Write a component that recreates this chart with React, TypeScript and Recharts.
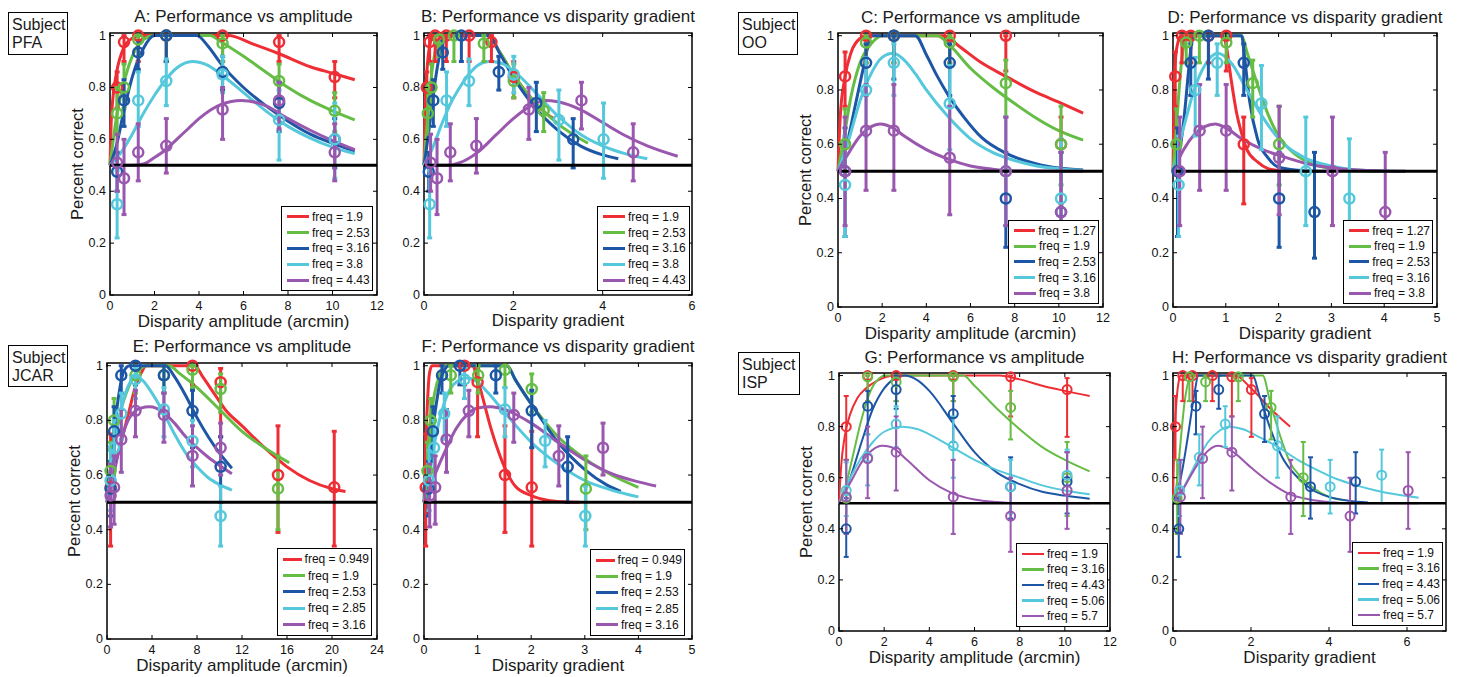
import React from 'react';
import { ComposedChart, Line, Scatter, XAxis, YAxis, ErrorBar, ReferenceLine, ReferenceArea, Legend } from 'recharts';

const FONT = '"Liberation Sans", Arial, Helvetica, sans-serif';
const COLORS = ['#ee2d34', '#66bd45', '#1d56a5', '#55c8dc', '#9a57ae'];
const Y_TICKS = [0, 0.2, 0.4, 0.6, 0.8, 1];

// ---- Subject PFA (panels A, B) ----
const pfaFreqs = ['1.9', '2.53', '3.16', '3.8', '4.43'];
const pfaAmp = [0.32, 0.63, 1.27, 2.53, 5.06, 7.6, 10.1];
const pfaGrad = [
  [0.063, 0.125, 0.25, 0.5, 1.01, 1.51, 2.01],
  [0.085, 0.167, 0.336, 0.67, 1.34, 2.01, 2.68],
  [0.106, 0.209, 0.42, 0.837, 1.675, 2.515, 3.34],
  [0.127, 0.25, 0.505, 1.007, 2.01, 3.02, 4.02],
  [0.148, 0.292, 0.589, 1.173, 2.347, 3.525, 4.684],
];
const pfaY = [
  [0.8, 0.975, 1, 1, 1, 0.975, 0.84],
  [0.7, 0.8, 0.985, 1, 0.97, 0.825, 0.71],
  [0.475, 0.75, 0.935, 1, 0.86, 0.74, 0.6],
  [0.35, null, 0.75, 0.825, 0.85, 0.675, 0.6],
  [0.51, 0.45, 0.55, 0.575, 0.715, 0.75, 0.55],
];
const pfaLo = [
  [0.72, 0.9, 0.9, 0.9, 0.9, 0.9, 0.76],
  [0.62, 0.72, 0.92, 0.9, 0.9, 0.76, 0.63],
  [0.4, 0.65, 0.87, 0.9, 0.79, 0.63, 0.49],
  [0.22, null, 0.65, 0.73, 0.78, 0.52, 0.45],
  [0.4, 0.31, 0.44, 0.47, 0.6, 0.64, 0.44],
];
const pfaHi = [
  [0.86, 1, 1, 1, 1, 1, 0.9],
  [0.8, 0.89, 1, 1, 1, 0.89, 0.78],
  [0.55, 0.83, 0.98, 1, 0.92, 0.82, 0.68],
  [0.48, null, 0.86, 0.91, 0.92, 0.79, 0.74],
  [0.62, 0.6, 0.66, 0.68, 0.8, 0.82, 0.66],
];
const fitA = [
  [[0, 0.5], [0.05, 0.66], [0.12, 0.75], [0.3, 0.86], [0.6, 0.95], [1, 0.99], [1.4, 1], [5.3, 1], [6.5, 0.965], [7.6, 0.93], [9, 0.88], [10, 0.855], [11, 0.83]],
  [[0, 0.5], [0.3, 0.69], [0.6, 0.81], [1, 0.92], [1.5, 0.985], [2, 1], [4.5, 1], [5, 0.975], [6, 0.92], [7, 0.86], [8, 0.8], [9, 0.75], [10, 0.71], [11, 0.675]],
  [[0, 0.5], [0.3, 0.58], [0.6, 0.7], [1, 0.84], [1.5, 0.95], [2, 1], [3.9, 1], [4.4, 0.96], [5, 0.89], [6, 0.8], [7, 0.73], [8, 0.67], [9, 0.62], [10, 0.585], [11, 0.555]],
  [[0, 0.5], [0.5, 0.55], [1, 0.62], [1.5, 0.7], [2, 0.77], [2.5, 0.83], [3, 0.875], [3.7, 0.9], [4.4, 0.885], [5, 0.85], [6, 0.78], [7, 0.71], [8, 0.65], [9, 0.605], [10, 0.57], [11, 0.545]],
  [[0, 0.5], [1, 0.5], [1.5, 0.505], [2, 0.53], [2.5, 0.56], [3, 0.6], [3.5, 0.64], [4, 0.68], [5, 0.735], [5.9, 0.75], [7, 0.73], [8, 0.68], [9, 0.635], [10, 0.595], [11, 0.56]],
];
const fitB = [
  [[0, 0.5], [0.03, 0.75], [0.06, 0.85], [0.1, 0.93], [0.15, 0.98], [0.2, 1], [1.45, 1], [1.7, 0.935], [2, 0.85], [2.3, 0.78], [2.6, 0.72], [2.9, 0.68]],
  [[0, 0.5], [0.1, 0.73], [0.2, 0.89], [0.3, 0.97], [0.4, 1], [1.4, 1], [1.7, 0.935], [2, 0.85], [2.5, 0.74], [3, 0.66], [3.67, 0.585]],
  [[0, 0.5], [0.1, 0.62], [0.2, 0.76], [0.3, 0.88], [0.4, 0.96], [0.55, 1], [1.45, 1], [1.7, 0.93], [2, 0.84], [2.5, 0.72], [3, 0.635], [3.5, 0.575], [4, 0.54], [4.35, 0.525]],
  [[0, 0.5], [0.2, 0.57], [0.4, 0.66], [0.6, 0.74], [0.8, 0.8], [1, 0.85], [1.2, 0.885], [1.45, 0.9], [1.7, 0.895], [2, 0.865], [2.5, 0.78], [3, 0.69], [3.5, 0.62], [4, 0.575], [4.5, 0.545], [5, 0.525]],
  [[0, 0.5], [0.5, 0.5], [0.8, 0.51], [1.2, 0.55], [1.6, 0.615], [2, 0.68], [2.4, 0.73], [2.7, 0.75], [3, 0.745], [3.5, 0.715], [4, 0.665], [4.5, 0.615], [5, 0.575], [5.68, 0.535]],
];

// ---- Subject OO (panels C, D) ----
const ooFreqs = ['1.27', '1.9', '2.53', '3.16', '3.8'];
const ooAmp = [0.32, 1.27, 2.53, 5.06, 7.6, 10.1];
const ooGrad = [
  [0.042, 0.169, 0.336, 0.673, 1.01, 1.34],
  [0.064, 0.25, 0.5, 1.01, 1.51, 2.01],
  [0.085, 0.336, 0.67, 1.34, 2.01, 2.68],
  [0.106, 0.42, 0.837, 1.675, 2.515, 3.34],
  [0.127, 0.505, 1.007, 2.01, 3.02, 4.02],
];
const ooY = [
  [0.85, 1, 1, 1, 1, 0.6],
  [0.6, 0.975, 1, 0.975, 0.825, 0.6],
  [0.5, 0.9, 1, 0.9, 0.4, 0.35],
  [0.45, 0.8, 0.9, 0.75, 0.5, 0.4],
  [0.5, 0.65, 0.65, 0.55, 0.5, 0.35],
];
const ooLo = [
  [0.74, 0.9, 0.9, 0.9, 0.87, 0.38],
  [0.5, 0.9, 0.9, 0.9, 0.7, 0.45],
  [0.26, 0.78, 0.84, 0.78, 0.22, 0.18],
  [0.26, 0.63, 0.78, 0.58, 0.3, 0.22],
  [0.3, 0.43, 0.43, 0.34, 0.3, 0.15],
];
const ooHi = [
  [0.94, 1, 1, 1, 1, 0.7],
  [0.73, 1, 1, 1, 0.91, 0.74],
  [0.66, 0.97, 1, 0.97, 0.57, 0.57],
  [0.63, 0.92, 0.97, 0.89, 0.7, 0.62],
  [0.7, 0.82, 0.82, 0.74, 0.7, 0.57],
];
const fitC = [
  [[0, 0.5], [0.1, 0.7], [0.3, 0.84], [0.6, 0.94], [1, 0.99], [1.3, 1], [4.8, 1], [5.5, 0.96], [6.5, 0.9], [7.6, 0.85], [9, 0.79], [10, 0.755], [11.1, 0.715]],
  [[0, 0.5], [0.3, 0.64], [0.6, 0.78], [1, 0.9], [1.5, 0.97], [2, 1], [4.5, 1], [5, 0.97], [6, 0.88], [7, 0.81], [8, 0.75], [9, 0.695], [10, 0.65], [11.1, 0.615]],
  [[0, 0.5], [0.4, 0.6], [0.8, 0.75], [1.2, 0.9], [1.5, 1], [3.5, 1], [4, 0.93], [4.5, 0.85], [5, 0.78], [5.7, 0.7], [6.5, 0.625], [7.6, 0.567], [9, 0.527], [10, 0.512], [11.1, 0.505]],
  [[0, 0.5], [0.5, 0.62], [1, 0.76], [1.5, 0.86], [2, 0.92], [2.5, 0.935], [3, 0.91], [3.5, 0.86], [4, 0.8], [5, 0.7], [6, 0.62], [7, 0.57], [8, 0.54], [9, 0.52], [10, 0.51], [11.1, 0.503]],
  [[0, 0.5], [0.5, 0.57], [1, 0.63], [1.5, 0.665], [1.9, 0.675], [2.5, 0.66], [3, 0.63], [4, 0.58], [5, 0.545], [6, 0.52], [7, 0.508], [8, 0.502], [11.1, 0.5]],
];
const fitD = [
  [[0, 0.5], [0.02, 0.8], [0.05, 0.92], [0.1, 0.98], [0.15, 1], [0.95, 1], [1.02, 0.95], [1.1, 0.84], [1.2, 0.72], [1.3, 0.64], [1.4, 0.58], [1.6, 0.535], [1.8, 0.51], [2, 0.503], [2.2, 0.5]],
  [[0, 0.5], [0.05, 0.62], [0.1, 0.76], [0.15, 0.88], [0.2, 0.96], [0.27, 1], [1.3, 1], [1.4, 0.94], [1.6, 0.82], [1.8, 0.71], [2, 0.63], [2.3, 0.565], [2.6, 0.53], [3, 0.51], [3.5, 0.502], [4, 0.5]],
  [[0, 0.5], [0.1, 0.55], [0.2, 0.68], [0.3, 0.88], [0.35, 0.97], [0.4, 1], [1.3, 1], [1.35, 0.93], [1.45, 0.76], [1.6, 0.62], [1.8, 0.55], [2, 0.515], [2.5, 0.502], [3, 0.5]],
  [[0, 0.5], [0.2, 0.66], [0.4, 0.8], [0.6, 0.89], [0.85, 0.935], [1.1, 0.9], [1.4, 0.8], [1.7, 0.7], [2, 0.62], [2.5, 0.55], [3, 0.52], [3.5, 0.505], [4.4, 0.5]],
  [[0, 0.5], [0.2, 0.58], [0.4, 0.635], [0.6, 0.665], [0.8, 0.675], [1, 0.66], [1.3, 0.62], [1.7, 0.58], [2, 0.56], [2.5, 0.53], [3, 0.513], [3.5, 0.505], [4.4, 0.5]],
];

// ---- Subject JCAR (panels E, F) ----
const jcarFreqs = ['0.949', '1.9', '2.53', '2.85', '3.16'];
const jcarAmp = [
  [0.32, 7.6, 10.1, 15.2, 20.2],
  [0.32, 0.63, 2.53, 5.06, 7.6, 10.1, 15.2],
  [0.32, 0.63, 1.27, 2.53, 5.06, 7.6, 10.1],
  [0.32, 0.63, 1.27, 2.53, 5.06, 7.6, 10.1],
  [0.32, 0.63, 1.27, 2.53, 5.06, 7.6, 10.1],
];
const jcarGrad = [
  [0.032, 0.755, 1, 1.51, 2.01],
  [0.064, 0.125, 0.5, 1.01, 1.51, 2.01, 3.02],
  [0.085, 0.167, 0.336, 0.67, 1.34, 2.01, 2.68],
  [0.095, 0.188, 0.378, 0.754, 1.51, 2.26, 3.01],
  [0.106, 0.209, 0.42, 0.837, 1.675, 2.515, 3.34],
];
const jcarY = [
  [0.555, 1, 0.94, 0.6, 0.555],
  [0.615, 0.8, 0.965, 0.965, 0.985, 0.915, 0.55],
  [0.55, 0.76, 0.965, 1, 0.965, 0.835, 0.63],
  [0.58, 0.7, 0.825, 0.95, 0.84, 0.725, 0.45],
  [0.525, 0.555, 0.73, 0.835, 0.82, 0.67, 0.7],
];
const jcarLo = [
  [0.34, 0.93, 0.74, 0.39, 0.34],
  [0.5, 0.72, 0.9, 0.9, 0.92, 0.83, 0.4],
  [0.45, 0.65, 0.9, 0.93, 0.9, 0.7, 0.5],
  [0.47, 0.58, 0.73, 0.88, 0.74, 0.63, 0.34],
  [0.41, 0.42, 0.61, 0.74, 0.72, 0.56, 0.6],
];
const jcarHi = [
  [0.75, 1, 0.99, 0.78, 0.76],
  [0.72, 0.88, 1, 1, 1, 0.97, 0.67],
  [0.65, 0.85, 1, 1, 1, 0.91, 0.74],
  [0.69, 0.8, 0.9, 0.99, 0.92, 0.8, 0.56],
  [0.64, 0.67, 0.84, 0.91, 0.9, 0.78, 0.79],
];
const fitE = [
  [[0, 0.5], [0.5, 0.6], [1, 0.68], [1.5, 0.76], [2, 0.84], [2.5, 0.92], [3, 0.97], [3.5, 1], [7.8, 1], [8.5, 0.96], [9.5, 0.9], [10.5, 0.84], [12, 0.78], [14, 0.7], [16, 0.63], [18, 0.58], [20, 0.55], [21.2, 0.54]],
  [[0, 0.5], [0.5, 0.7], [1, 0.8], [2, 0.93], [3, 0.99], [3.5, 1], [5.5, 1], [6.5, 0.97], [8, 0.92], [10, 0.84], [12, 0.76], [14, 0.7], [16.2, 0.645]],
  [[0, 0.5], [0.5, 0.7], [1, 0.88], [1.5, 0.98], [2, 1], [5.2, 1], [6, 0.96], [7, 0.89], [8, 0.81], [9, 0.74], [10, 0.68], [11.1, 0.625]],
  [[0, 0.5], [0.5, 0.66], [1, 0.79], [1.5, 0.88], [2, 0.935], [2.6, 0.96], [3.2, 0.945], [4, 0.9], [5, 0.83], [6, 0.75], [7, 0.68], [8, 0.63], [9, 0.59], [10, 0.565], [11.1, 0.545]],
  [[0, 0.5], [0.5, 0.58], [1, 0.68], [1.5, 0.76], [2, 0.81], [3, 0.845], [3.8, 0.85], [5, 0.83], [6, 0.79], [7, 0.74], [8, 0.7], [9, 0.665], [10, 0.635], [11.1, 0.605]],
];
const fitF = [
  [[0, 0.5], [0.05, 0.8], [0.1, 0.97], [0.15, 1], [0.9, 1], [1, 0.95], [1.1, 0.88], [1.25, 0.77], [1.4, 0.68], [1.5, 0.63], [1.7, 0.56], [2, 0.525], [2.3, 0.508], [2.6, 0.502], [2.9, 0.5]],
  [[0, 0.5], [0.05, 0.62], [0.1, 0.76], [0.2, 0.9], [0.3, 0.97], [0.4, 1], [1.55, 1], [1.7, 0.95], [2, 0.86], [2.5, 0.74], [3, 0.66], [3.5, 0.6], [4, 0.555]],
  [[0, 0.5], [0.1, 0.66], [0.2, 0.82], [0.3, 0.94], [0.4, 0.99], [0.45, 1], [1.55, 1], [1.7, 0.95], [2, 0.86], [2.5, 0.72], [3, 0.62], [3.4, 0.565], [3.67, 0.54]],
  [[0, 0.5], [0.1, 0.61], [0.2, 0.72], [0.3, 0.81], [0.45, 0.9], [0.6, 0.94], [0.8, 0.955], [1, 0.94], [1.2, 0.9], [1.5, 0.83], [2, 0.72], [2.5, 0.64], [3, 0.58], [3.5, 0.545], [4, 0.52]],
  [[0, 0.5], [0.2, 0.6], [0.4, 0.69], [0.6, 0.77], [0.8, 0.82], [1, 0.845], [1.25, 0.85], [1.5, 0.84], [2, 0.79], [2.5, 0.72], [3, 0.655], [3.5, 0.605], [4, 0.575], [4.33, 0.56]],
];

// ---- Subject ISP (panels G, H) ----
const ispFreqs = ['1.9', '3.16', '4.43', '5.06', '5.7'];
const ispAmp = [0.32, 1.27, 2.53, 5.06, 7.6, 10.1];
const ispGrad = [
  [0.064, 0.25, 0.5, 1.01, 1.51, 2.01],
  [0.106, 0.42, 0.837, 1.675, 2.515, 3.34],
  [0.148, 0.589, 1.173, 2.347, 3.525, 4.684],
  [0.17, 0.673, 1.34, 2.68, 4.03, 5.35],
  [0.19, 0.758, 1.51, 3.02, 4.54, 6.03],
];
const ispY = [
  [0.8, 1, 1, 1, 0.995, 0.945],
  [0.52, 0.995, 0.975, 0.995, 0.875, 0.6],
  [0.4, 0.88, 0.945, 0.85, 0.565, 0.585],
  [0.55, 0.68, 0.81, 0.725, 0.565, 0.61],
  [0.525, 0.675, 0.7, 0.525, 0.45, 0.55],
];
const ispLo = [
  [0.67, 0.9, 0.9, 0.9, 0.84, 0.76],
  [0.38, 0.9, 0.9, 0.9, 0.75, 0.45],
  [0.29, 0.77, 0.87, 0.74, 0.44, 0.46],
  [0.45, 0.57, 0.72, 0.6, 0.46, 0.5],
  [0.38, 0.52, 0.55, 0.38, 0.31, 0.4],
];
const ispHi = [
  [0.92, 1, 1, 1, 1, 0.99],
  [0.67, 1, 1, 1, 0.94, 0.74],
  [0.52, 0.94, 1, 0.92, 0.68, 0.7],
  [0.66, 0.77, 0.88, 0.84, 0.67, 0.71],
  [0.67, 0.8, 0.84, 0.67, 0.6, 0.7],
];
const fitG = [
  [[0, 0.5], [0.1, 0.65], [0.25, 0.76], [0.5, 0.85], [0.8, 0.91], [1.2, 0.95], [1.7, 0.98], [2.5, 1], [7.1, 1], [8, 0.985], [9, 0.96], [10, 0.94], [11.1, 0.92]],
  [[0, 0.5], [0.3, 0.57], [0.6, 0.68], [1, 0.83], [1.4, 0.94], [1.8, 0.99], [2, 1], [5.5, 1], [6, 0.96], [7, 0.87], [8, 0.79], [9, 0.72], [10, 0.67], [11.1, 0.625]],
  [[0, 0.5], [0.5, 0.6], [1, 0.74], [1.5, 0.87], [2, 0.95], [2.5, 0.99], [2.9, 1], [3.5, 0.98], [4, 0.94], [5, 0.82], [6, 0.7], [7, 0.62], [8, 0.575], [9, 0.545], [10, 0.53], [11.1, 0.518]],
  [[0, 0.5], [0.5, 0.6], [1, 0.68], [1.5, 0.74], [2, 0.78], [2.8, 0.8], [3.5, 0.79], [4, 0.77], [5, 0.72], [6, 0.67], [7, 0.63], [8, 0.6], [9, 0.57], [10, 0.55], [11.1, 0.535]],
  [[0, 0.5], [0.5, 0.58], [1, 0.66], [1.5, 0.71], [1.9, 0.725], [2.3, 0.72], [3, 0.67], [4, 0.59], [5, 0.54], [6, 0.515], [7, 0.505], [8, 0.5], [11.1, 0.5]],
];
const fitH = [
  [[0, 0.5], [0.02, 0.65], [0.05, 0.8], [0.1, 0.92], [0.15, 0.98], [0.2, 1], [1.6, 1], [2, 0.95], [2.5, 0.87], [3, 0.8]],
  [[0, 0.5], [0.1, 0.58], [0.2, 0.75], [0.3, 0.9], [0.4, 0.98], [0.45, 1], [2.3, 1], [2.5, 0.89], [2.8, 0.74], [3, 0.66], [3.3, 0.6], [3.6, 0.56], [4, 0.525], [4.4, 0.512]],
  [[0, 0.5], [0.2, 0.6], [0.4, 0.78], [0.55, 0.93], [0.65, 1], [2.05, 1], [2.2, 0.93], [2.5, 0.79], [2.8, 0.68], [3.2, 0.6], [3.6, 0.55], [4, 0.525], [4.5, 0.51], [5, 0.503]],
  [[0, 0.5], [0.3, 0.57], [0.6, 0.66], [0.9, 0.74], [1.2, 0.785], [1.45, 0.8], [1.8, 0.79], [2.2, 0.76], [2.7, 0.72], [3.2, 0.67], [3.7, 0.63], [4.2, 0.595], [4.7, 0.57], [5.2, 0.55], [5.7, 0.535], [6.3, 0.522]],
  [[0, 0.5], [0.2, 0.54], [0.5, 0.62], [0.8, 0.69], [1.15, 0.725], [1.5, 0.705], [2, 0.64], [2.5, 0.58], [3, 0.535], [3.5, 0.515], [4, 0.505], [4.5, 0.5], [6.3, 0.5]],
];

const subjects = [
  { name: 'PFA', x: 8, y: 12, w: 60, h: 43 },
  { name: 'OO', x: 738, y: 12, w: 60, h: 43 },
  { name: 'JCAR', x: 8, y: 345, w: 60, h: 42 },
  { name: 'ISP', x: 738, y: 352, w: 62, h: 43 },
];

type Box = { x: number; y: number; w: number; h: number };
type Panel = {
  id: string; title: string; xLabel: string; yLabel: boolean;
  left: number; right: number; top: number; bottom: number;
  xMax: number; xTicks: number[]; titleY: number; xLabelY: number;
  freqs: string[]; xs: number[][]; ys: (number | null)[][]; lo: (number | null)[][]; hi: (number | null)[][];
  fits: number[][][]; legend: Box; thin?: boolean;
};

const AMP = 'Disparity amplitude (arcmin)';
const GRAD = 'Disparity gradient';
const rep = (a: number[]) => [a, a, a, a, a];

const panels: Panel[] = [
  { id: 'A', title: 'A: Performance vs amplitude', xLabel: AMP, yLabel: true, left: 110, right: 377, top: 33, bottom: 295, xMax: 12, xTicks: [0, 2, 4, 6, 8, 10, 12], titleY: 17, xLabelY: 321, freqs: pfaFreqs, xs: rep(pfaAmp), ys: pfaY, lo: pfaLo, hi: pfaHi, fits: fitA, legend: { x: 281, y: 206, w: 92, h: 85 } },
  { id: 'B', title: 'B: Performance vs disparity gradient', xLabel: GRAD, yLabel: false, left: 424, right: 692, top: 33, bottom: 295, xMax: 6, xTicks: [0, 2, 4, 6], titleY: 17, xLabelY: 320, freqs: pfaFreqs, xs: pfaGrad, ys: pfaY, lo: pfaLo, hi: pfaHi, fits: fitB, legend: { x: 597, y: 206, w: 93, h: 85 } },
  { id: 'C', title: 'C: Performance vs amplitude', xLabel: AMP, yLabel: true, left: 838, right: 1103, top: 33, bottom: 307, xMax: 12, xTicks: [0, 2, 4, 6, 8, 10, 12], titleY: 18, xLabelY: 333, freqs: ooFreqs, xs: rep(ooAmp), ys: ooY, lo: ooLo, hi: ooHi, fits: fitC, legend: { x: 1008, y: 220, w: 91, h: 84 } },
  { id: 'D', title: 'D: Performance vs disparity gradient', xLabel: GRAD, yLabel: false, left: 1173, right: 1437, top: 33, bottom: 307, xMax: 5, xTicks: [0, 1, 2, 3, 4, 5], titleY: 18, xLabelY: 333, freqs: ooFreqs, xs: ooGrad, ys: ooY, lo: ooLo, hi: ooHi, fits: fitD, legend: { x: 1343, y: 220, w: 90, h: 84 } },
  { id: 'E', title: 'E: Performance vs amplitude', xLabel: AMP, yLabel: true, left: 107, right: 377, top: 363, bottom: 639, xMax: 24, xTicks: [0, 4, 8, 12, 16, 20, 24], titleY: 347, xLabelY: 665, freqs: jcarFreqs, xs: jcarAmp, ys: jcarY, lo: jcarLo, hi: jcarHi, fits: fitE, legend: { x: 277, y: 548, w: 95, h: 88 } },
  { id: 'F', title: 'F: Performance vs disparity gradient', xLabel: GRAD, yLabel: false, left: 424, right: 692, top: 363, bottom: 639, xMax: 5, xTicks: [0, 1, 2, 3, 4, 5], titleY: 347, xLabelY: 665, freqs: jcarFreqs, xs: jcarGrad, ys: jcarY, lo: jcarLo, hi: jcarHi, fits: fitF, legend: { x: 590, y: 549, w: 95, h: 87 } },
  { id: 'G', title: 'G: Performance vs amplitude', xLabel: AMP, yLabel: true, left: 839, right: 1110, top: 373, bottom: 631, xMax: 12, xTicks: [0, 2, 4, 6, 8, 10, 12], titleY: 358, xLabelY: 657, freqs: ispFreqs, xs: rep(ispAmp), ys: ispY, lo: ispLo, hi: ispHi, fits: fitG, legend: { x: 1016, y: 543, w: 92, h: 84 }, thin: true },
  { id: 'H', title: 'H: Performance vs disparity gradient', xLabel: GRAD, yLabel: false, left: 1173, right: 1446, top: 373, bottom: 631, xMax: 7, xTicks: [0, 2, 4, 6], titleY: 358, xLabelY: 657, freqs: ispFreqs, xs: ispGrad, ys: ispY, lo: ispLo, hi: ispHi, fits: fitH, legend: { x: 1352, y: 542, w: 91, h: 84 }, thin: true },
];

const ML = 40, MT = 8, MR = 14, MB = 24;

function points(xs: number[], ys: (number | null)[], lo: (number | null)[], hi: (number | null)[]) {
  const out: { x: number; y: number; err: [number, number] }[] = [];
  xs.forEach((x, i) => {
    const y = ys[i];
    if (y == null) return;
    out.push({ x, y, err: [y - (lo[i] as number), (hi[i] as number) - y] });
  });
  return out;
}

const PanelChart = ({ p }: { p: Panel }) => {
  const plotW = p.right - p.left;
  const plotH = p.bottom - p.top;
  const w = plotW + ML + MR;
  const h = plotH + MT + MB;
  const cx = p.left - ML;
  const cy = p.top - MT;
  const lw = p.thin ? 2 : 3;
  const r = p.thin ? 4.5 : 5;

  const xTick = (t: any) => (
    <g>
      <line x1={t.x} y1={t.y} x2={t.x} y2={t.y - 4} stroke="#000" />
      <line x1={t.x} y1={t.y - plotH} x2={t.x} y2={t.y - plotH + 4} stroke="#000" />
      <text x={t.x} y={t.y + 11} textAnchor="middle" dominantBaseline="central" fontSize={12.5} fontFamily={FONT} fill="#111">{t.payload.value}</text>
    </g>
  );
  const yTick = (t: any) => (
    <g>
      <line x1={t.x} y1={t.y} x2={t.x + 4} y2={t.y} stroke="#000" />
      <line x1={t.x + plotW} y1={t.y} x2={t.x + plotW - 4} y2={t.y} stroke="#000" />
      <text x={t.x - 4} y={t.y} textAnchor="end" dominantBaseline="central" fontSize={12.5} fontFamily={FONT} fill="#111">{t.payload.value}</text>
    </g>
  );

  const legendContent = () => (
    <div style={{ boxSizing: 'border-box', width: p.legend.w, height: p.legend.h, border: '1.5px solid #000', background: '#fff', padding: '2px 2px 2px 5px', display: 'flex', flexDirection: 'column', justifyContent: 'space-around' }}>
      {p.freqs.map((f, i) => (
        <div key={f} style={{ display: 'flex', alignItems: 'center', fontFamily: FONT, fontSize: 12, lineHeight: '14px', color: '#111', whiteSpace: 'nowrap' }}>
          <span style={{ display: 'inline-block', width: 22, height: p.thin ? 2.5 : 3, background: COLORS[i], marginRight: 3 }} />
          {`freq = ${f}`}
        </div>
      ))}
    </div>
  );

  return (
    <div style={{ position: 'absolute', left: cx, top: cy }}>
      <ComposedChart width={w} height={h} margin={{ top: MT, right: MR, bottom: 0, left: 0 }}>
        <XAxis type="number" dataKey="x" domain={[0, p.xMax]} ticks={p.xTicks} height={MB} tickSize={0} tickMargin={0} tickLine={false} axisLine={false} tick={xTick} interval={0} />
        <YAxis type="number" dataKey="y" domain={[0, 1.01]} ticks={Y_TICKS} width={ML} tickSize={0} tickMargin={0} tickLine={false} axisLine={false} tick={yTick} interval={0} />
        <ReferenceArea x1={0} x2={p.xMax} y1={0} y2={1.01} fill="none" fillOpacity={0} stroke="#000" strokeWidth={1.5} />
        {p.fits.map((fit, i) => (
          <Line key={`f${i}`} data={fit.map(([x, y]) => ({ x, y }))} dataKey="y" type="monotone" dot={false} activeDot={false} stroke={COLORS[i]} strokeWidth={lw} isAnimationActive={false} />
        ))}
        {p.freqs.map((f, i) => (
          <Scatter key={`s${i}`} data={points(p.xs[i], p.ys[i], p.lo[i], p.hi[i])} dataKey="y" fill={COLORS[i]} isAnimationActive={false}
            shape={(s: any) => <circle cx={s.cx} cy={s.cy} r={r} fill="none" stroke={COLORS[i]} strokeWidth={p.thin ? 2 : 2.5} />}>
            <ErrorBar dataKey="err" direction="y" width={2.5} stroke={COLORS[i]} strokeWidth={p.thin ? 2 : 3} />
          </Scatter>
        ))}
        <ReferenceLine y={0.5} stroke="#000" strokeWidth={p.thin ? 2.5 : 3} />
        <Legend layout="vertical" align="center" verticalAlign="middle" content={legendContent}
          wrapperStyle={{ left: p.legend.x - cx, top: p.legend.y - cy, width: p.legend.w, height: p.legend.h }} />
      </ComposedChart>
    </div>
  );
};

const textStyle: React.CSSProperties = { position: 'absolute', fontFamily: FONT, color: '#1a1a1a', whiteSpace: 'nowrap', textAlign: 'center' };

export default function App() {
  return (
    <div style={{ position: 'absolute', left: 0, top: 0, width: 1463, height: 677, background: '#fff', overflow: 'hidden' }}>
      {panels.map((p) => {
        const mid = (p.left + p.right) / 2;
        return (
          <React.Fragment key={p.id}>
            <PanelChart p={p} />
            <div style={{ ...textStyle, left: mid - 200, width: 400, top: p.titleY - 8, lineHeight: '16px', fontSize: 17 }}>{p.title}</div>
            <div style={{ ...textStyle, left: mid - 200, width: 400, top: p.xLabelY - 7.5, lineHeight: '15px', fontSize: 17 }}>{p.xLabel}</div>
            {p.yLabel && (
              <div style={{ ...textStyle, left: p.left - 33 - 100, width: 200, top: (p.top + p.bottom) / 2 - 8, lineHeight: '16px', fontSize: 16.5, transform: 'rotate(-90deg)' }}>Percent correct</div>
            )}
          </React.Fragment>
        );
      })}
      {subjects.map((s) => (
        <div key={s.name} style={{ position: 'absolute', left: s.x, top: s.y, width: s.w, height: s.h, boxSizing: 'border-box', border: '1.5px solid #000', fontFamily: FONT, fontSize: 16, lineHeight: '18px', padding: '3px 0 0 3px', color: '#1a1a1a' }}>
          Subject<br />{s.name}
        </div>
      ))}
    </div>
  );
}
